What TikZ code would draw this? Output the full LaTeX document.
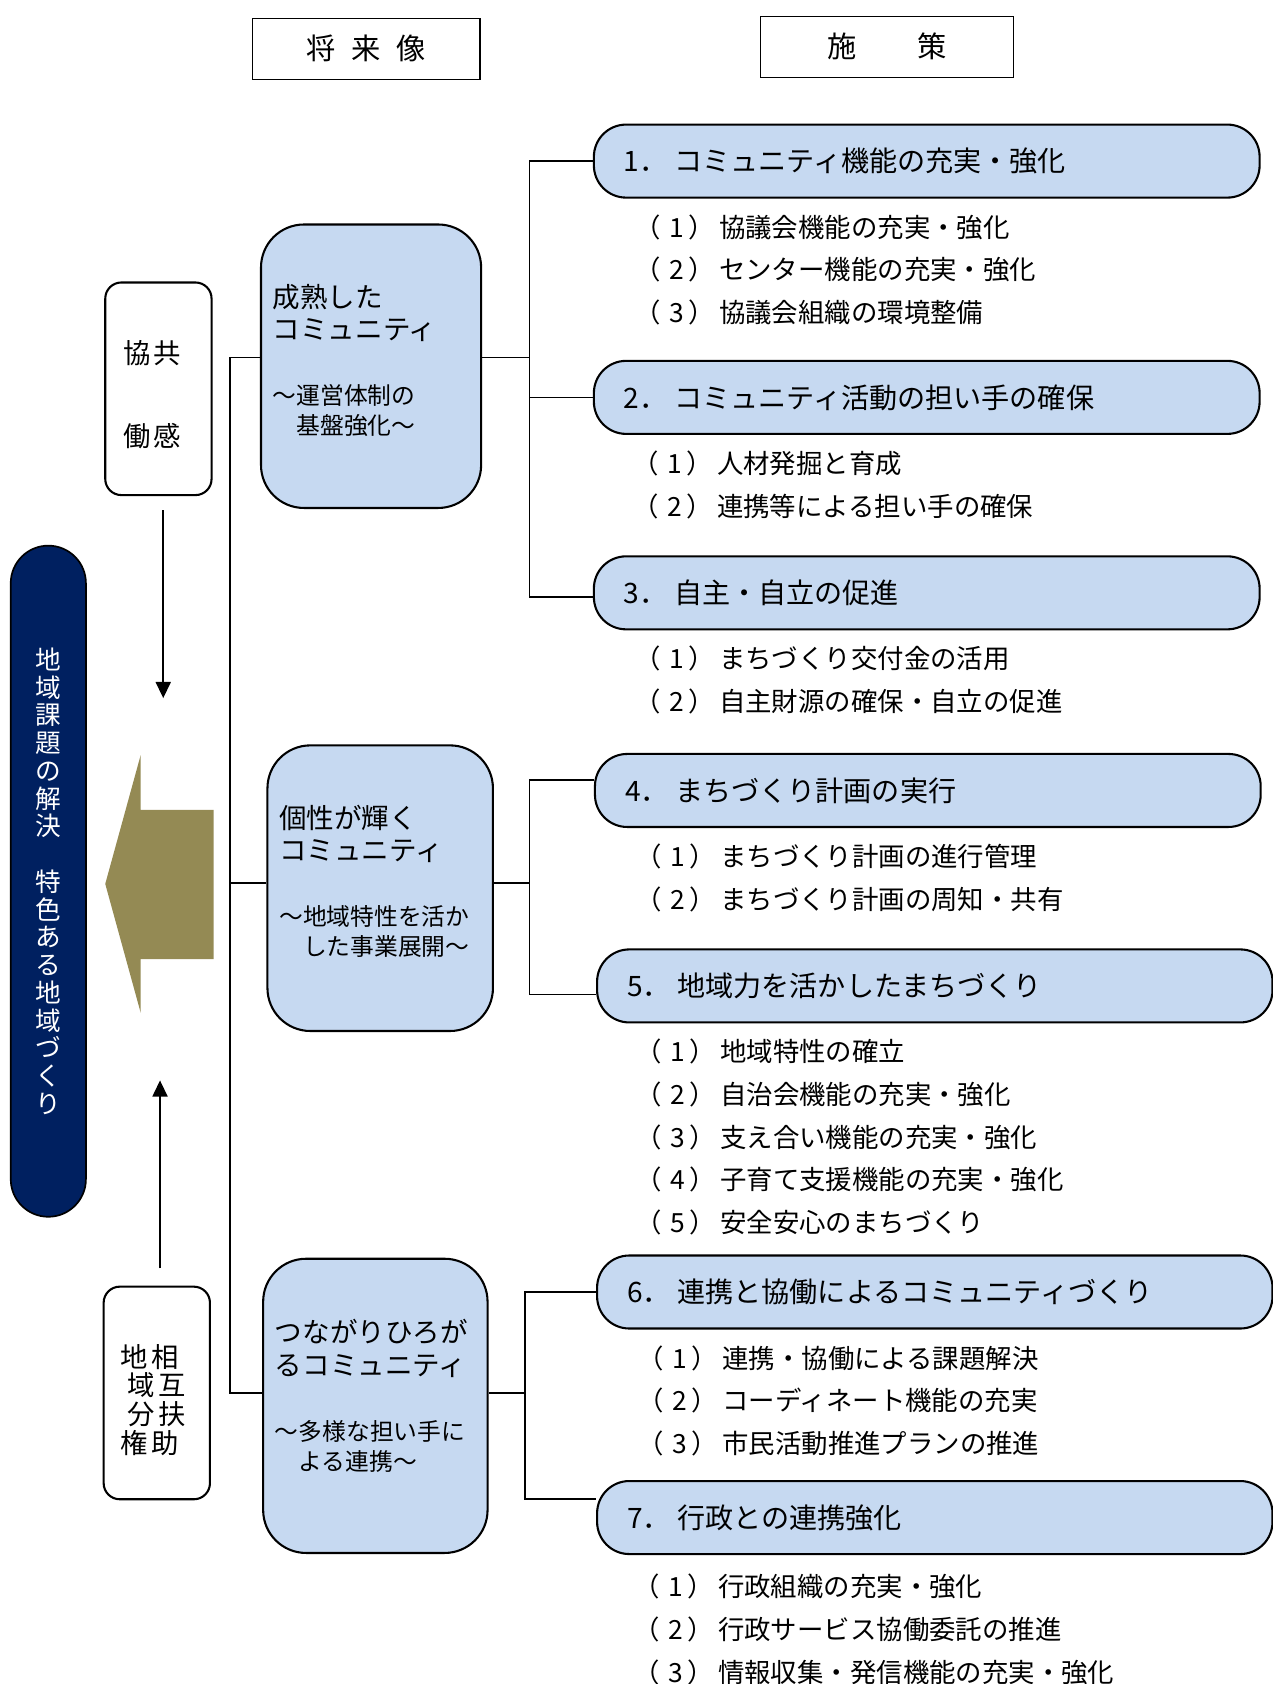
\documentclass[tikz,border=0pt]{standalone}
\usepackage{fontspec}
\setmainfont{Noto Sans CJK JP}
\usepackage{tikz}
\usetikzlibrary{positioning,arrows.meta}
\definecolor{boxblue}{RGB}{198,217,241}
\definecolor{goalnavy}{RGB}{0,32,96}
\definecolor{arrowolive}{RGB}{148,138,84}
\setlength{\parindent}{0pt}
\newcommand{\jhead}{\fontsize{15.5}{18}\selectfont}
\newcommand{\jtitle}{\fontsize{14.9}{17.1}\selectfont}
\newcommand{\jvis}{\fontsize{14.6}{17.1}\selectfont}
\newcommand{\jsub}{\fontsize{12.6}{15.9}\selectfont}
\newcommand{\jitem}{\fontsize{14}{22.6}\selectfont}
\newcommand{\itemno}[1]{（\hspace{0.16cm}#1\hspace{0.08cm}）\hspace{0.08cm}}
\newcommand{\polno}[1]{#1．\hspace{0.12cm}}
\newcommand{\lowend}[1]{\rule[-#1]{0pt}{#1}}
\tikzset{policy/.style={draw, fill=boxblue, line width=1.1pt, rounded corners=0.6cm,
    anchor=west, minimum height=1.36cm, inner xsep=0.56cm, text width=#1,
    align=left, font=\jtitle}, policy/.default=11.28cm}
\tikzset{items/.style={inner sep=0pt, align=left, font=\jitem}}
\tikzset{vision/.style={draw, fill=boxblue, line width=1.1pt, rounded corners=0.8cm,
    inner xsep=0.22cm, align=left, font=\jvis}}

\begin{document}
\begin{tikzpicture}[x=0.02cm, y=-0.02cm, line width=0.9pt]
  \useasboundingbox (0,0) rectangle (1185,1568);
  \tikzset{head/.style={draw, line width=0.6pt, fill=white, font=\jhead,
      minimum height=1.14cm}}
  \tikzset{side/.style={draw, line width=1.1pt, rounded corners=0.3cm,
      minimum width=1.98cm, minimum height=3.96cm, align=center}}
  \tikzset{arr/.style={-{Triangle[width=0.28cm,length=0.3cm]}}}

  % headings
  \node[head, minimum width=4.24cm] (future) at (341,45.5) {将\hspace{0.3cm}来\hspace{0.3cm}像};
  \node[head, minimum width=4.72cm] (measure) at (826,43.5) {施\hspace{1.12cm}策};

  % left column
  \node[draw, fill=goalnavy, text=white, rounded corners=0.7cm, minimum width=1.4cm,
    minimum height=12.5cm, align=center, font={\fontsize{13.6}{14.7}\selectfont}]
    (goal) at (45,820.5) {地\\域\\課\\題\\の\\解\\決\\　\\特\\色\\あ\\る\\地\\域\\づ\\く\\り};
  \node[side, font={\fontsize{14.5}{44}\selectfont}] (kyokan) at (147.5,362)
    {\rule{0pt}{0.65cm}協\hspace{0.04cm}共\hspace*{0.24cm}\\働\hspace{0.04cm}感\hspace*{0.24cm}};
  \node[side, font={\fontsize{14.5}{15.3}\selectfont}] (bunken) at (146,1297)
    {\rule{0pt}{0.69cm}地\hspace{0.06cm}相\hspace*{0.26cm}\\域\hspace{0.06cm}互\hspace*{0.26cm}\\
     分\hspace{0.06cm}扶\hspace*{0.26cm}\\権\hspace{0.06cm}助\hspace*{0.26cm}};
  \fill[arrowolive] (98,823) -- (131,703) -- (131,754) -- (199,754) -- (199,893)
    -- (131,893) -- (131,943) -- cycle;
  \coordinate (downtip) at (152,650);
  \coordinate (uptip) at (149,1006);
  \draw[arr, shorten <=0.26cm] (kyokan.south -| downtip) -- (downtip);
  \draw[arr, shorten <=0.32cm] (bunken.north -| uptip) -- (uptip);

  % future visions
  \node[vision, text width=3.66cm, minimum height=5.28cm] (mature) at (345.5,341)
    {成熟した\\コミュニティ\par\vspace{0.65cm}{\jsub ～運営体制の\\　基盤強化～\lowend{0.25cm}\par}};
  \node[vision, text width=3.76cm, minimum height=5.32cm] (unique) at (354,827)
    {個性が輝く\\コミュニティ\par\vspace{0.65cm}{\jsub ～地域特性を活か\\　した事業展開～\lowend{0.29cm}\par}};
  \node[vision, text width=3.74cm, minimum height=5.48cm] (linked) at (349.5,1309)
    {つながりひろが\\るコミュニティ\par\vspace{0.65cm}{\jsub ～多様な担い手に\\　よる連携～\lowend{0.41cm}\par}};

  % policies
  \node[policy] (p1) at (552,150) {\polno{1}コミュニティ機能の充実・強化};
  \node[policy] (p2) at (552,370) {\polno{2}コミュニティ活動の担い手の確保};
  \node[policy] (p3) at (552,552) {\polno{3}自主・自立の促進};
  \node[policy] (p4) at (553,736) {\polno{4}まちづくり計画の実行};
  \node[policy=11.46cm] (p5) at (555,918) {\polno{5}地域力を活かしたまちづくり};
  \node[policy=11.46cm] (p6) at (555,1203) {\polno{6}連携と協働によるコミュニティづくり};
  \node[policy=11.46cm] (p7) at (555,1413) {\polno{7}行政との連携強化};

  \node[items, below right=0.28cm and 0.76cm of p1.south west] (p1list)
    {\itemno{1}協議会機能の充実・強化\\\itemno{2}センター機能の充実・強化\\\itemno{3}協議会組織の環境整備};
  \node[items, below right=0.28cm and 0.72cm of p2.south west] (p2list)
    {\itemno{1}人材発掘と育成\\\itemno{2}連携等による担い手の確保};
  \node[items, below right=0.28cm and 0.76cm of p3.south west] (p3list)
    {\itemno{1}まちづくり交付金の活用\\\itemno{2}自主財源の確保・自立の促進};
  \node[items, below right=0.28cm and 0.76cm of p4.south west] (p4list)
    {\itemno{1}まちづくり計画の進行管理\\\itemno{2}まちづくり計画の周知・共有};
  \node[items, below right=0.28cm and 0.72cm of p5.south west] (p5list)
    {\itemno{1}地域特性の確立\\\itemno{2}自治会機能の充実・強化\\\itemno{3}支え合い機能の充実・強化\\\itemno{4}子育て支援機能の充実・強化\\\itemno{5}安全安心のまちづくり};
  \node[items, below right=0.28cm and 0.76cm of p6.south west] (p6list)
    {\itemno{1}連携・協働による課題解決\\\itemno{2}コーディネート機能の充実\\\itemno{3}市民活動推進プランの推進};
  \node[items, below right=0.34cm and 0.68cm of p7.south west] (p7list)
    {\itemno{1}行政組織の充実・強化\\\itemno{2}行政サービス協働委託の推進\\\itemno{3}情報収集・発信機能の充実・強化};

  % connectors
  \draw ([yshift=0.16cm]mature.west) -- ++(-28,0) coordinate (trunk)
    |- ([yshift=0.24cm]linked.west);
  \draw (trunk) |- ([yshift=0.1cm]unique.west);
  \draw (p1.west) -- ++(-59,0) coordinate (fork1) |- ([yshift=-0.08cm]p3.west);
  \draw (fork1) |- (p2.west);
  \draw (fork1) |- ([yshift=0.16cm]mature.east);
  \draw ([yshift=0.2cm]p4.west) -- ++(-60,0) coordinate (fork2)
    |- ([yshift=-0.16cm]p5.west);
  \draw (fork2) |- ([yshift=0.1cm]unique.east);
  \draw (p6.west) -- ++(-66,0) coordinate (fork3) |- ([yshift=0.34cm]p7.west);
  \draw (fork3) |- ([yshift=0.24cm]linked.east);
\end{tikzpicture}
\end{document}
